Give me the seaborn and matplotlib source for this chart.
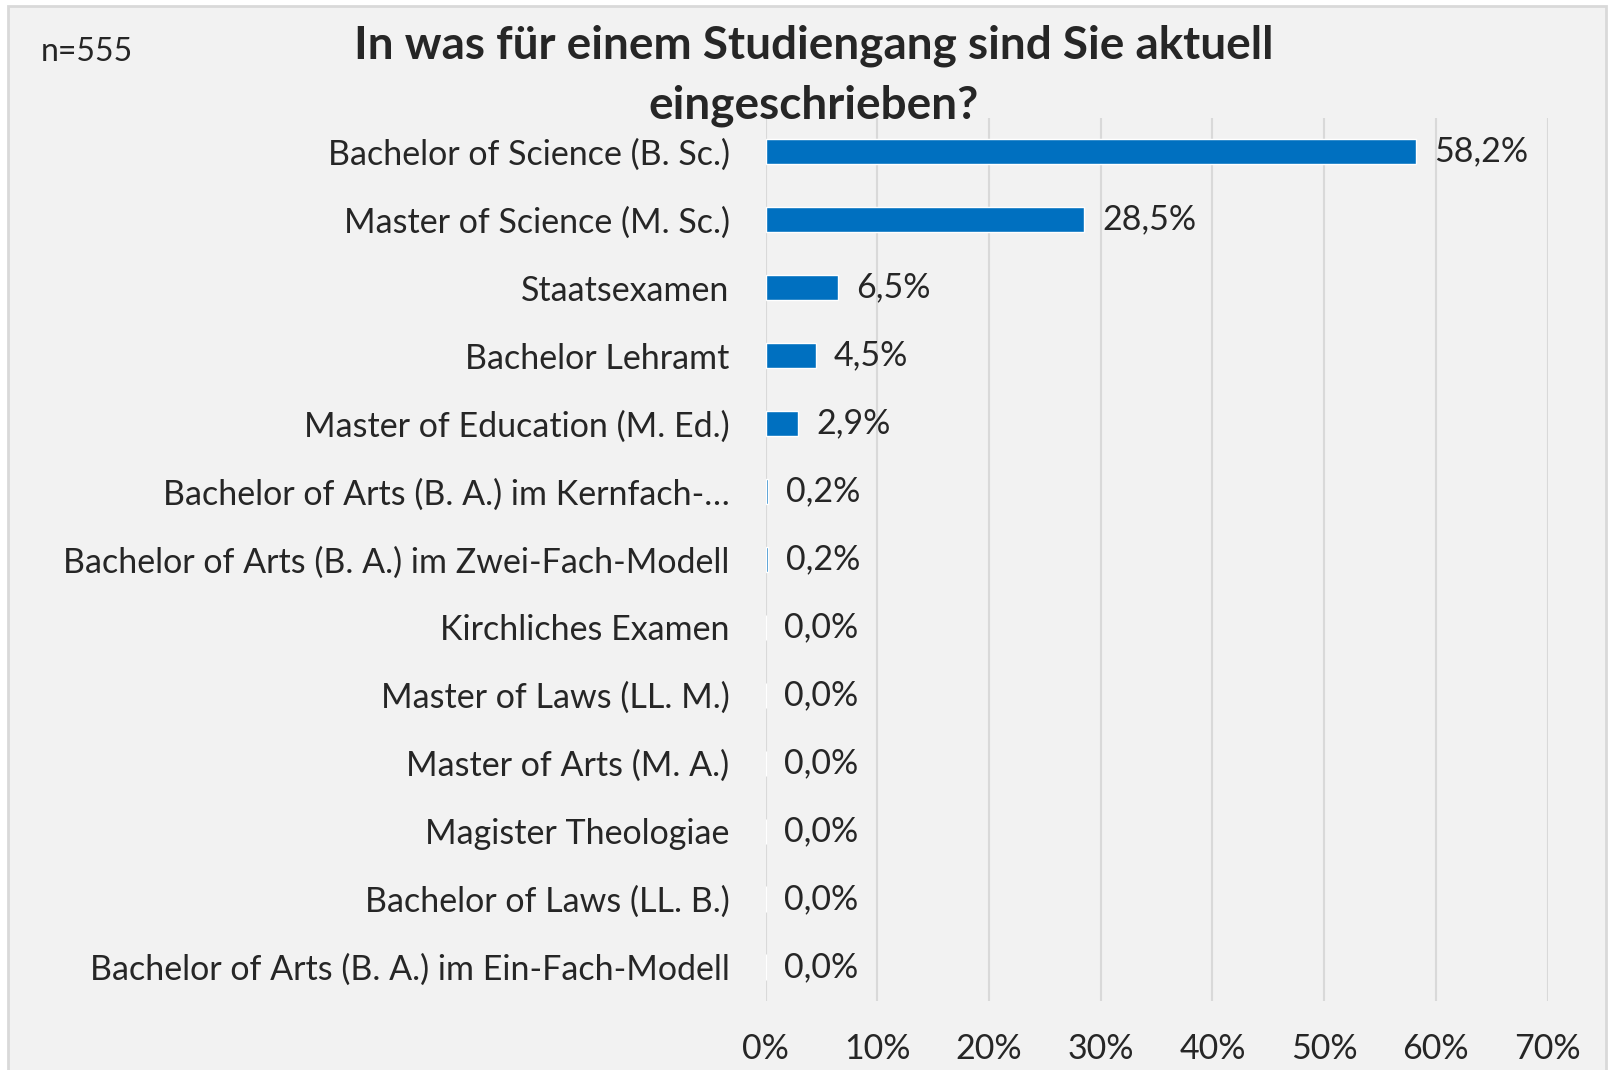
import matplotlib
matplotlib.use("Agg")
import matplotlib.pyplot as plt
from matplotlib.patches import Rectangle
from matplotlib.ticker import FixedLocator
import seaborn as sns

# data (top to bottom as in the chart)
studiengang = [
    "Bachelor of Science (B. Sc.)",
    "Master of Science (M. Sc.)",
    "Staatsexamen",
    "Bachelor Lehramt",
    "Master of Education (M. Ed.)",
    "Bachelor of Arts (B. A.) im Kernfach-…",
    "Bachelor of Arts (B. A.) im Zwei-Fach-Modell",
    "Kirchliches Examen",
    "Master of Laws (LL. M.)",
    "Master of Arts (M. A.)",
    "Magister Theologiae",
    "Bachelor of Laws (LL. B.)",
    "Bachelor of Arts (B. A.) im Ein-Fach-Modell",
]
anteil = [58.2, 28.5, 6.5, 4.5, 2.9, 0.2, 0.2, 0.0, 0.0, 0.0, 0.0, 0.0, 0.0]
x_ticks = [0, 10, 20, 30, 40, 50, 60, 70]

sns.set_style("white")
plt.rcParams["font.family"] = ["Lato", "DejaVu Sans"]

bg = "#F2F2F2"
grid_col = "#D9D9D9"
fs = 24.5

fig = plt.figure(figsize=(16.12, 10.70), dpi=100)
fig.patch.set_facecolor("white")
# chart area frame like in excel
fig.patches.append(Rectangle((8 / 1612, -0.01), 1598 / 1612, 1 - 6 / 1070 + 0.01,
                             transform=fig.transFigure, facecolor=bg,
                             edgecolor=grid_col, linewidth=2, zorder=-10))

ax = fig.add_axes([0.475, 0.0645, 0.485, 0.8255])
ax.set_facecolor(bg)

sns.barplot(x=anteil, y=studiengang, orient="h", color="#0070C0",
            width=0.37, saturation=1, ax=ax, zorder=3)

ax.set_xlim(0, 70)
ax.set_ylim(len(studiengang) - 0.5, -0.5)
ax.xaxis.set_major_locator(FixedLocator(x_ticks))
ax.set_xticklabels([f"{t}%" for t in x_ticks])
ax.grid(axis="x", color=grid_col, linewidth=1.5, zorder=0)
ax.grid(axis="y", visible=False)
for s in ax.spines.values():
    s.set_visible(False)
ax.tick_params(axis="y", length=0, labelsize=fs, pad=26)
ax.tick_params(axis="x", length=0, labelsize=fs, pad=23)
ax.set_xlabel("")
ax.set_ylabel("")

# value labels with german decimal comma
for i, v in enumerate(anteil):
    ax.annotate(f"{v:.1f}%".replace(".", ","), xy=(v, i), xytext=(13, 0),
                textcoords="offset points", ha="left", va="center", fontsize=fs)

fig.text(0.505, 0.929, "In was für einem Studiengang sind Sie aktuell\neingeschrieben?",
         ha="center", va="center", fontsize=33, fontweight="bold", linespacing=1.5)
fig.text(0.025, 0.951, "n=555", ha="left", va="center", fontsize=23)

fig.savefig("out.png", dpi=100, facecolor=fig.get_facecolor())
